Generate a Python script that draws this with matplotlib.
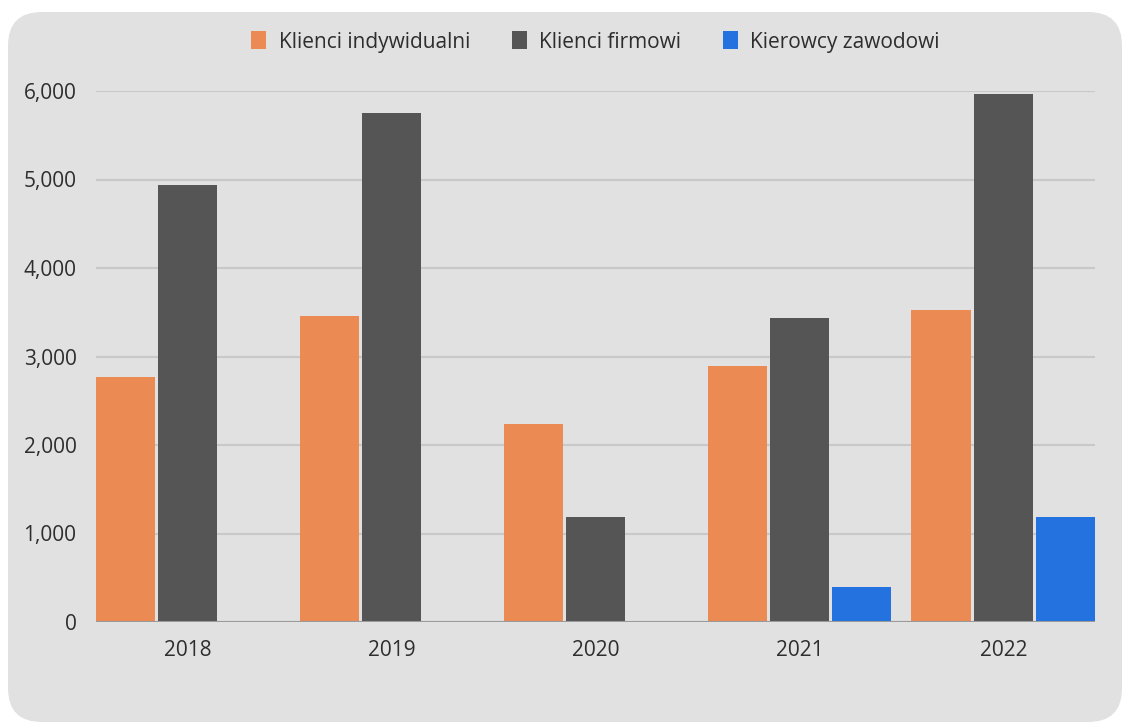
import matplotlib.pyplot as plt
import numpy as np
from matplotlib.patches import FancyBboxPatch
from matplotlib.ticker import FuncFormatter

plt.rcParams['font.family'] = ['Open Sans', 'DejaVu Sans']

years = ['2018', '2019', '2020', '2021', '2022']
series_names = ['Klienci indywidualni', 'Klienci firmowi', 'Kierowcy zawodowi']
indywidualni = [2770, 3460, 2240, 2890, 3530]
firmowi = [4940, 5750, 1190, 3430, 5970]
zawodowi = [0, 0, 0, 395, 1190]
colors = ['#ec8a53', '#555555', '#2372e0']

fig = plt.figure(figsize=(11.26, 7.24), dpi=100)
fig.patch.set_facecolor('white')

# rounded card behind the chart
card = FancyBboxPatch((8 / 1126, 2 / 724), 1114 / 1126, 710 / 724,
                      boxstyle='round,pad=0,rounding_size=0.03',
                      transform=fig.transFigure, facecolor='#e1e1e1',
                      edgecolor='none', zorder=-5, mutation_aspect=1126 / 724)
fig.patches.append(card)

ax = fig.add_axes([96 / 1126, 102 / 724, 999 / 1126, 531 / 724])
ax.set_facecolor('none')
ax.set_zorder(2)

x = np.arange(len(years))
slot = 0.3056
width = 0.29
for i, (vals, name) in enumerate(zip([indywidualni, firmowi, zawodowi], series_names)):
    ax.bar(x + (i - 1) * slot, vals, width, color=colors[i], label=name,
           edgecolor=colors[i], linewidth=0, zorder=3)

ax.set_xlim(-0.45, 4.45)
ax.set_ylim(0, 6000)
ax.set_yticks(np.arange(0, 6001, 1000))
ax.yaxis.set_major_formatter(FuncFormatter(lambda v, p: f'{int(v):,}'))
ax.set_xticks(x)
ax.set_xticklabels(years)

ax.grid(axis='y', color='#c8c8c8', linewidth=1.5, zorder=1)
ax.axhline(0, color='#9a9a9a', linewidth=1.5, zorder=4)
for s in ax.spines.values():
    s.set_visible(False)
ax.tick_params(axis='both', length=0, labelsize=15, colors='#2e2e2e')
ax.tick_params(axis='y', pad=14)
ax.tick_params(axis='x', pad=13)

handles, labels = ax.get_legend_handles_labels()
leg = fig.legend(handles, labels, loc='center', bbox_to_anchor=(595.5 / 1126, 1 - 42 / 724),
                 ncol=3, frameon=False, fontsize=15, handlelength=0.72, handleheight=0.95,
                 handletextpad=0.6, columnspacing=2.0)
for t in leg.get_texts():
    t.set_color('#2e2e2e')

fig.savefig('out.png', dpi=100, facecolor='white')
